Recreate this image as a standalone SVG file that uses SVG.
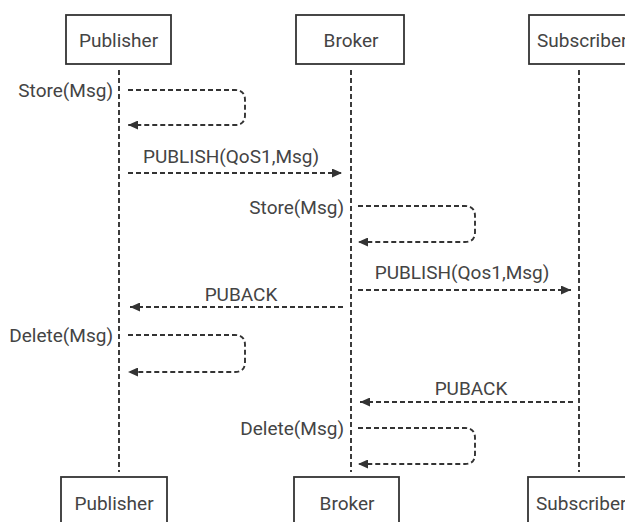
<svg xmlns="http://www.w3.org/2000/svg" width="625" height="522" viewBox="0 0 625 522">
  <style>
    .box { fill: #ffffff; stroke: #333333; stroke-width: 1.8; }
    .lbl { font-family: Roboto, "Liberation Sans", sans-serif; font-size: 19px; fill: #444444; }
    .mid { text-anchor: middle; }
    .end { text-anchor: end; }
    .life { fill: none; stroke: #333333; stroke-width: 1.9; stroke-dasharray: 5 3; }
    .msg { fill: none; stroke: #333333; stroke-width: 1.9; stroke-dasharray: 5 3; marker-end: url(#arrow); }
  </style>
  <defs>
    <marker id="arrow" markerUnits="userSpaceOnUse" markerWidth="11" markerHeight="9" refX="10" refY="4.5" orient="auto">
      <path d="M0,0 L10,4.5 L0,9 z" fill="#333333"/>
    </marker>
  </defs>
  <rect width="625" height="522" fill="#ffffff"/>

  <!-- participants (top and bottom heads) -->
  <g id="publisher">
    <rect class="box" x="66" y="15" width="105" height="49"/>
    <text class="lbl mid" x="118.5" y="47">Publisher</text>
    <rect class="box" x="61" y="477" width="106" height="60"/>
    <text class="lbl mid" x="114" y="510">Publisher</text>
  </g>
  <g id="broker">
    <rect class="box" x="296" y="15" width="108" height="49"/>
    <text class="lbl mid" x="351" y="47">Broker</text>
    <rect class="box" x="294" y="477" width="105" height="60"/>
    <text class="lbl mid" x="347" y="510">Broker</text>
  </g>
  <g id="subscriber">
    <rect class="box" x="529" y="15" width="150" height="49"/>
    <text class="lbl" x="537" y="47">Subscriber</text>
    <rect class="box" x="528" y="477" width="150" height="60"/>
    <text class="lbl" x="536" y="510">Subscriber</text>
  </g>

  <!-- lifelines and messages -->
  <g id="connectors">
    <line class="life" x1="119" y1="70" x2="119" y2="472"/>
    <line class="life" x1="351" y1="70" x2="351" y2="472"/>
    <line class="life" x1="579" y1="70" x2="579" y2="472"/>

    <path class="msg" d="M128,90 H235 Q245,90 245,100 V115 Q245,125 235,125 H128"/>
    <text class="lbl end" x="113" y="97">Store(Msg)</text>

    <path class="msg" d="M128,173 H342"/>
    <text class="lbl mid" x="231" y="163">PUBLISH(QoS1,Msg)</text>

    <path class="msg" d="M358,206 H465 Q475,206 475,216 V232 Q475,242 465,242 H358"/>
    <text class="lbl end" x="344" y="214">Store(Msg)</text>

    <path class="msg" d="M358,290 H571"/>
    <text class="lbl mid" x="462" y="279">PUBLISH(Qos1,Msg)</text>

    <path class="msg" d="M343,307 H130"/>
    <text class="lbl mid" x="241" y="301">PUBACK</text>

    <path class="msg" d="M128,335 H235 Q245,335 245,345 V362 Q245,372 235,372 H128"/>
    <text class="lbl end" x="113" y="342">Delete(Msg)</text>

    <path class="msg" d="M573,402 H360"/>
    <text class="lbl mid" x="471" y="395">PUBACK</text>

    <path class="msg" d="M358,428 H465 Q475,428 475,438 V454 Q475,464 465,464 H358"/>
    <text class="lbl end" x="344" y="435">Delete(Msg)</text>
  </g>
</svg>
